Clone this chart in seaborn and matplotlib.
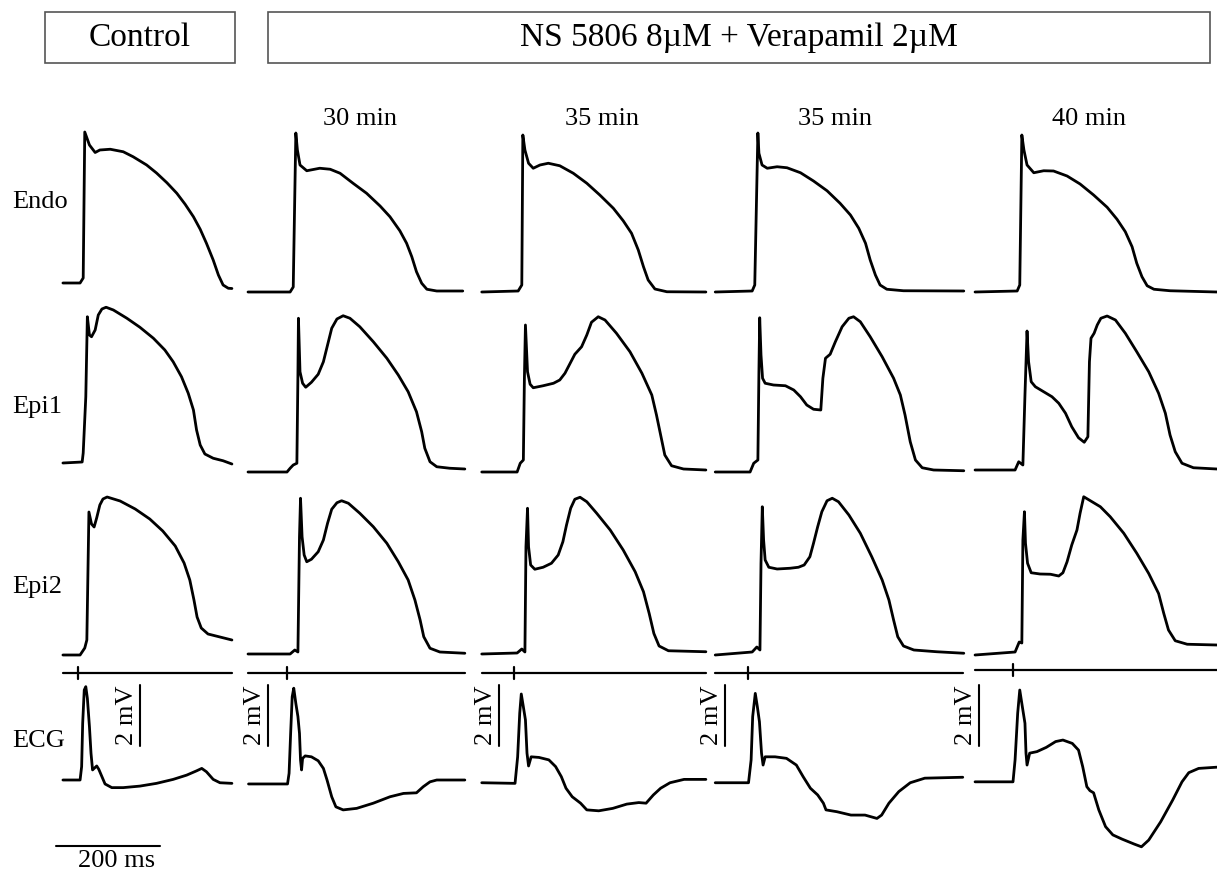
import matplotlib
matplotlib.use("Agg")
import matplotlib.pyplot as plt
from matplotlib.patches import Rectangle
import pandas as pd
import seaborn as sns

sns.set_theme(style="white")
plt.rcParams["font.family"] = ["Liberation Serif", "DejaVu Serif"]

# ---------------- data (time in ms from stimulus, AP in mV, ECG in mV) ----------------
column_titles = ["", "30 min", "35 min", "35 min", "40 min"]
row_labels = ["Endo", "Epi1", "Epi2", "ECG"]

endo_c0_t = [-29, 4, 10, 13, 22, 33, 42, 62, 87, 106, 132, 151, 171, 190, 206, 222, 235, 247, 260, 270, 279, 289, 296]
endo_c0_v = [-77.8, -77.8, -73.8, 43.0, 32.6, 26.6, 28.6, 29.2, 27.2, 23.2, 16.6, 10.2, 2.4, -6.0, -14.8, -24.8, -34.8, -46.0, -59.4, -71.4, -79.4, -82.0, -82.2]
endo_c1_t = [-75, 6, 12, 17, 20, 25, 38, 63, 83, 102, 127, 153, 179, 198, 217, 230, 240, 249, 259, 269, 288, 338]
endo_c1_v = [-85.0, -85.0, -81.0, 42.2, 28.6, 16.6, 12.0, 14.0, 13.2, 10.0, 2.0, -6.0, -16.2, -24.8, -36.0, -46.0, -56.8, -68.8, -78.0, -82.8, -84.2, -84.2]
endo_c2_t = [-62, 8, 15, 17, 21, 28, 37, 50, 66, 88, 114, 140, 165, 191, 210, 226, 239, 249, 258, 271, 294, 369]
endo_c2_v = [-85.0, -84.2, -79.4, 40.6, 28.6, 18.0, 14.0, 16.6, 18.0, 16.0, 10.0, 2.0, -7.4, -18.0, -28.0, -38.0, -51.4, -64.8, -75.4, -82.6, -84.8, -85.0]
endo_c3_t = [-63, 8, 13, 19, 21, 27, 37, 56, 75, 101, 126, 152, 177, 197, 213, 226, 235, 245, 254, 267, 299, 415]
endo_c3_v = [-85.0, -84.2, -79.4, 42.2, 26.0, 16.6, 14.0, 15.2, 14.4, 10.4, 3.8, -4.0, -14.0, -23.4, -34.0, -46.0, -59.4, -71.4, -79.4, -82.8, -84.0, -84.2]
endo_c4_t = [-73, 8, 13, 17, 21, 27, 40, 59, 78, 104, 129, 155, 181, 200, 216, 229, 238, 248, 258, 271, 302, 392]
endo_c4_v = [-85.0, -84.2, -79.4, 40.6, 28.6, 16.6, 10.4, 12.0, 11.8, 7.8, 1.4, -7.4, -17.2, -26.8, -36.8, -48.8, -62.0, -72.8, -80.0, -82.8, -84.0, -85.0]

epi1_c0_t = [-29, 8, 10, 15, 18, 22, 26, 33, 39, 46, 54, 68, 94, 119, 145, 167, 183, 199, 212, 222, 228, 235, 244, 260, 279, 296]
epi1_c0_v = [-82.6, -81.8, -74.6, -29.6, 34.4, 19.8, 18.4, 23.8, 35.8, 40.6, 42.0, 39.8, 33.2, 26.0, 17.2, 7.8, -1.6, -13.6, -26.8, -40.2, -56.2, -68.2, -75.4, -78.8, -80.8, -83.4]
epi1_c1_t = [-75, 0, 6, 12, 19, 21, 22, 25, 30, 36, 47, 60, 70, 78, 86, 96, 108, 121, 140, 166, 192, 214, 233, 249, 259, 265, 275, 288, 313, 342]
epi1_c1_v = [-89.8, -89.8, -86.8, -84.2, -82.8, -12.2, 33.2, -9.6, -18.8, -22.0, -18.0, -11.6, -1.6, 11.8, 25.2, 32.6, 35.2, 33.2, 26.4, 14.4, 1.2, -12.2, -25.6, -41.6, -57.6, -70.8, -81.6, -85.6, -86.8, -87.4]
epi1_c2_t = [-62, 6, 12, 18, 20, 22, 26, 31, 37, 56, 76, 88, 98, 108, 117, 130, 140, 149, 162, 175, 197, 223, 246, 265, 274, 282, 290, 303, 326, 369]
epi1_c2_v = [-89.8, -89.8, -82.8, -80.2, -14.8, 27.8, -9.6, -19.6, -22.4, -20.8, -18.8, -16.2, -10.8, -2.8, 4.4, 10.4, 19.8, 30.0, 34.4, 31.8, 21.2, 6.4, -10.8, -28.2, -44.2, -60.2, -76.2, -84.8, -87.4, -88.2]
epi1_c3_t = [-63, 4, 11, 19, 21, 22.5, 25, 28, 33, 49, 72, 88, 101, 113, 126, 140, 144, 149, 158, 168, 181, 194, 203, 216, 235, 258, 280, 293, 302, 312, 322, 335, 357, 415]
epi1_c3_v = [-89.8, -89.8, -82.8, -80.2, -9.6, 33.6, 3.8, -14.8, -18.8, -20.2, -20.8, -24.2, -29.6, -36.2, -39.6, -40.2, -14.8, 1.2, 4.4, 14.4, 26.4, 33.2, 34.4, 30.4, 18.4, 2.4, -14.8, -28.2, -44.2, -65.6, -80.2, -86.4, -88.2, -88.8]
epi1_c4_t = [-73, 4, 11, 19, 23, 27, 30, 35, 43, 59, 75, 88, 101, 113, 126, 137, 144, 147, 150, 156, 162, 169, 181, 197, 216, 238, 261, 280, 293, 302, 312, 325, 347, 392]
epi1_c4_v = [-88.2, -88.2, -81.6, -84.2, -28.2, 23.0, -1.6, -17.6, -21.6, -25.6, -29.6, -34.8, -42.8, -53.6, -62.4, -66.0, -61.6, -1.6, 17.2, 21.2, 27.8, 33.2, 35.0, 31.8, 21.2, 6.4, -9.6, -26.8, -42.8, -60.2, -73.6, -82.8, -86.4, -87.4]

epi2_c0_t = [-29, 4, 13, 17, 21, 26, 31, 36, 42, 48, 56, 81, 110, 138, 163, 187, 204, 215, 223, 229, 237, 250, 273, 296]
epi2_c0_v = [-85.8, -85.8, -80.2, -73.8, 28.6, 19.0, 16.6, 24.0, 34.2, 39.0, 40.6, 37.4, 31.0, 23.0, 13.4, 1.4, -12.2, -25.8, -41.8, -55.4, -64.2, -69.0, -71.4, -73.8]
epi2_c1_t = [-75, 6, 15, 21, 24, 26, 29, 33, 38, 47, 60, 70, 78, 86, 96, 105, 118, 140, 166, 192, 214, 233, 246, 256, 263, 275, 294, 342]
epi2_c1_v = [-85.0, -85.0, -81.8, -83.4, 8.6, 39.6, 8.8, -5.8, -11.2, -9.2, -3.2, 6.2, 19.6, 30.8, 36.0, 37.6, 35.6, 27.6, 16.8, 3.6, -11.2, -25.8, -41.8, -57.8, -71.2, -80.4, -83.4, -84.4]
epi2_c2_t = [-62, 6, 15, 21, 23, 26, 28, 32, 40, 56, 72, 85, 94, 101, 109, 117, 127, 140, 159, 185, 210, 233, 249, 260, 269, 279, 297, 369]
epi2_c2_v = [-85.0, -84.2, -81.0, -83.4, 0.8, 31.6, 0.8, -13.8, -17.2, -15.6, -12.4, -5.8, 4.8, 18.2, 31.6, 38.8, 40.4, 36.8, 27.6, 14.2, -1.8, -19.2, -35.2, -52.6, -68.6, -78.6, -82.4, -83.2]
epi2_c3_t = [-63, 8, 17, 23, 25, 27.5, 30, 33, 40, 56, 81, 97, 108, 119, 126, 134, 142, 152, 162, 174, 194, 216, 238, 258, 271, 280, 288, 299, 319, 363, 415]
epi2_c3_v = [-85.8, -83.4, -79.4, -81.8, -12.4, 32.8, 6.2, -9.8, -15.6, -17.0, -16.4, -15.6, -13.8, -7.2, 3.6, 16.8, 28.8, 37.6, 39.6, 36.8, 26.2, 11.6, -7.2, -25.8, -41.8, -57.8, -71.2, -78.6, -81.8, -83.2, -84.4]
epi2_c4_t = [-73, 4, 12, 17, 19, 22, 24, 28, 35, 52, 72, 88, 96, 104, 113, 123, 129, 136, 152, 168, 187, 213, 238, 261, 280, 290, 299, 312, 335, 392]
epi2_c4_v = [-85.8, -83.4, -75.4, -76.2, 6.2, 28.8, 3.6, -12.4, -20.0, -21.0, -21.2, -22.6, -20.0, -11.2, 2.2, 14.2, 27.6, 40.8, 36.8, 32.8, 24.8, 11.6, -4.4, -20.6, -36.6, -52.6, -65.8, -74.4, -77.2, -77.8]

ecg_c0_t = [-29, 4, 7, 9, 12, 15, 18, 22, 25, 28, 31, 36, 40, 46, 52, 65, 87, 119, 151, 183, 209, 228, 238, 247, 260, 273, 296]
ecg_c0_v = [0.0, 0.0, 0.44, 1.86, 2.95, 3.06, 2.68, 1.75, 0.88, 0.33, 0.38, 0.46, 0.35, 0.11, -0.13, -0.25, -0.25, -0.2, -0.11, 0.02, 0.16, 0.3, 0.38, 0.27, 0.02, -0.09, -0.11]
ecg_c1_t = [-74, 1, 4, 7, 10, 13, 17, 21, 24, 26, 28, 30, 35, 47, 60, 70, 77, 86, 94, 108, 134, 166, 198, 224, 249, 262, 275, 288, 342]
ecg_c1_v = [-0.13, -0.13, 0.22, 1.53, 2.73, 3.01, 2.51, 2.08, 1.53, 0.66, 0.33, 0.71, 0.79, 0.76, 0.63, 0.38, 0.0, -0.55, -0.88, -0.98, -0.93, -0.76, -0.55, -0.44, -0.42, -0.22, -0.06, 0.0, 0.0]
ecg_c2_t = [-62, 2, 7, 11, 14, 18, 22, 25, 28, 33, 48, 67, 80, 91, 100, 112, 128, 140, 163, 190, 217, 240, 254, 268, 282, 300, 327, 369]
ecg_c2_v = [-0.09, -0.11, 0.76, 2.19, 2.82, 2.4, 1.97, 0.88, 0.46, 0.76, 0.74, 0.66, 0.44, 0.11, -0.27, -0.55, -0.76, -0.98, -1.01, -0.93, -0.79, -0.74, -0.76, -0.49, -0.27, -0.09, 0.02, 0.02]
ecg_c3_t = [-63, 1, 6, 9, 14, 18, 22, 26, 29, 33, 52, 74, 93, 106, 120, 134, 145, 150, 171, 198, 225, 248, 257, 271, 290, 312, 340, 413]
ecg_c3_v = [-0.09, -0.09, 0.66, 2.08, 2.84, 2.4, 1.91, 0.88, 0.49, 0.76, 0.76, 0.71, 0.49, 0.11, -0.27, -0.49, -0.76, -0.98, -1.04, -1.15, -1.15, -1.26, -1.15, -0.76, -0.38, -0.09, 0.06, 0.09]
ecg_c4_t = [-73, 0, 4, 9, 13, 18, 23, 25, 27, 32, 46, 64, 82, 96, 114, 126, 134, 142, 148, 155, 165, 178, 192, 210, 233, 247, 261, 284, 307, 325, 338, 357, 392]
ecg_c4_v = [-0.06, -0.06, 0.66, 2.19, 2.95, 2.4, 1.86, 0.88, 0.49, 0.88, 0.93, 1.07, 1.26, 1.31, 1.2, 0.98, 0.44, -0.22, -0.35, -0.42, -0.98, -1.53, -1.8, -1.94, -2.1, -2.19, -1.97, -1.37, -0.66, -0.06, 0.24, 0.38, 0.42]

stim_start = [-29, -75, -62, -63, -73]
stim_end = [296, 342, 369, 413, 392]
stim_time = [0, 0, 0, 0, 0]

ecg_bar_mv = 2.0
time_bar_ms = 200

traces = {
    "Endo": [(endo_c0_t, endo_c0_v), (endo_c1_t, endo_c1_v), (endo_c2_t, endo_c2_v),
             (endo_c3_t, endo_c3_v), (endo_c4_t, endo_c4_v)],
    "Epi1": [(epi1_c0_t, epi1_c0_v), (epi1_c1_t, epi1_c1_v), (epi1_c2_t, epi1_c2_v),
             (epi1_c3_t, epi1_c3_v), (epi1_c4_t, epi1_c4_v)],
    "Epi2": [(epi2_c0_t, epi2_c0_v), (epi2_c1_t, epi2_c1_v), (epi2_c2_t, epi2_c2_v),
             (epi2_c3_t, epi2_c3_v), (epi2_c4_t, epi2_c4_v)],
    "ECG": [(ecg_c0_t, ecg_c0_v), (ecg_c1_t, ecg_c1_v), (ecg_c2_t, ecg_c2_v),
            (ecg_c3_t, ecg_c3_v), (ecg_c4_t, ecg_c4_v)],
}

# ---------------- layout (pixels) ----------------
W, H, DPI = 1217, 871, 100
MS_PER_PX = 200 / 104.0
AP_PX_PER_MV = 1.25
ECG_PX_PER_MV = 30.5
col_stim_px = [78, 287, 514, 748, 1013]
row_ref_px = {"Endo": 292, "Epi1": 466, "Epi2": 654}   # pixel of -85 mV
ecg_ref_px = 780                                         # pixel of 0 mV
stim_y_px = [673, 673, 673, 673, 670]
AP_YLIM = (-100, 60)
ECG_YLIM = (-3, 4)
LEFT_PX, RIGHT_PX = 45, 220
XLIM = (-LEFT_PX * MS_PER_PX, RIGHT_PX * MS_PER_PX)
bar_t = [119, -37, -29, -44, -65]
LW = 2.0

fig = plt.figure(figsize=(W / DPI, H / DPI), dpi=DPI)
fig.patch.set_facecolor("white")


def px_axes(left, top, right, bottom):
    ax = fig.add_axes([left / W, 1 - bottom / H, (right - left) / W, (bottom - top) / H])
    ax.set_axis_off()
    ax.patch.set_alpha(0)
    return ax


def draw(ax, t, v, lw=LW):
    df = pd.DataFrame({"t": t, "v": v})
    sns.lineplot(data=df, x="t", y="v", ax=ax, color="black", lw=lw, sort=False,
                 estimator=None, legend=False, clip_on=False,
                 solid_joinstyle="round", solid_capstyle="round")
    ax.set_axis_off()


for c, xs in enumerate(col_stim_px):
    left, right = xs - LEFT_PX, xs + RIGHT_PX
    for r in ["Endo", "Epi1", "Epi2"]:
        ref = row_ref_px[r]
        top = ref - (AP_YLIM[1] + 85) * AP_PX_PER_MV
        bottom = ref + (-85 - AP_YLIM[0]) * AP_PX_PER_MV
        ax = px_axes(left, top, right, bottom)
        t, v = traces[r][c]
        draw(ax, t, v)
        ax.set_xlim(*XLIM)
        ax.set_ylim(*AP_YLIM)

    # stimulus marker line
    ys = stim_y_px[c]
    ax = px_axes(left, ys - 10, right, ys + 10)
    draw(ax, [stim_start[c], stim_end[c]], [0, 0], lw=1.6)
    draw(ax, [stim_time[c], stim_time[c]], [-0.6, 0.6], lw=1.6)
    ax.set_xlim(*XLIM)
    ax.set_ylim(-1, 1)

    # ECG
    top = ecg_ref_px - ECG_YLIM[1] * ECG_PX_PER_MV
    bottom = ecg_ref_px - ECG_YLIM[0] * ECG_PX_PER_MV
    ax = px_axes(left, top, right, bottom)
    t, v = traces["ECG"][c]
    draw(ax, t, v)
    ax.set_xlim(*XLIM)
    ax.set_ylim(*ECG_YLIM)
    # 2 mV scale bar
    ax.plot([bar_t[c], bar_t[c]], [1.11, 1.11 + ecg_bar_mv], color="black", lw=1.5,
            clip_on=False)
    ax.text(bar_t[c] - 2 * MS_PER_PX, 1.11 + ecg_bar_mv / 2, "2 mV", rotation=90,
            ha="right", va="center", fontsize=19, color="black")
    if c == 0:
        ax.plot([-42, -42 + time_bar_ms], [-2.16, -2.16], color="black", lw=1.5,
                clip_on=False)
        ax.text(74, -2.28, "200 ms", ha="center", va="top", fontsize=19, color="black")

# row labels
label_baseline_px = {"Endo": 208, "Epi1": 413, "Epi2": 593, "ECG": 747}
for r in row_labels:
    fig.text(12 / W, 1 - label_baseline_px[r] / H, r, fontsize=19, ha="left",
             va="baseline", color="black")

# column titles
title_center_px = [None, 360, 602, 835, 1089]
for c, ttl in enumerate(column_titles):
    if ttl:
        fig.text(title_center_px[c] / W, 1 - 125 / H, ttl, fontsize=19, ha="center",
                 va="baseline", color="black")

# header boxes
for (x0, x1, label) in [(45, 235, "Control"), (268, 1210, "NS 5806 8µM + Verapamil 2µM")]:
    y0, y1 = 12, 63
    fig.patches.append(Rectangle((x0 / W, 1 - y1 / H), (x1 - x0) / W, (y1 - y0) / H,
                                 transform=fig.transFigure, fill=False,
                                 edgecolor="#555555", lw=1.2))
    fig.text((x0 + x1) / 2 / W, 1 - (y0 + y1) / 2 / H, label, fontsize=24,
             ha="center", va="center", color="black")

fig.savefig("out.png", dpi=DPI, facecolor="white")
